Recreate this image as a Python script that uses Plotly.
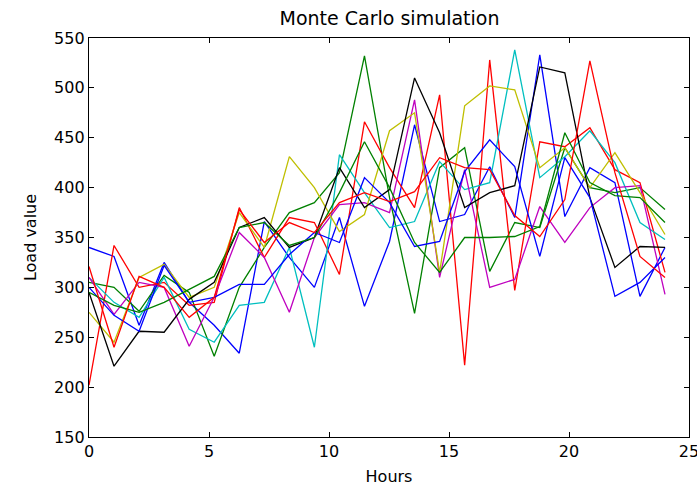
import plotly.graph_objects as go

hours = [0.0, 1.043, 2.087, 3.13, 4.174, 5.217, 6.261, 7.304, 8.348, 9.391, 10.435, 11.478,
         12.522, 13.565, 14.609, 15.652, 16.696, 17.739, 18.783, 19.826, 20.87, 21.913, 22.957, 24.0]

blue_a = [340, 331, 262, 325, 285, 262, 234, 366, 330, 300, 370, 281,
          346, 463, 366, 373, 421, 370, 533, 371, 420, 405, 291, 340]
green_a = [305, 300, 276, 312, 295, 231, 300, 340, 375, 385, 415, 532,
           390, 274, 420, 440, 316, 365, 360, 440, 400, 395, 400, 378]
red_a = [202, 342, 300, 305, 282, 285, 380, 330, 370, 365, 313, 466,
         420, 380, 493, 222, 528, 297, 446, 441, 460, 418, 405, 315]
cyan = [310, 285, 270, 310, 258, 245, 282, 285, 340, 240, 433, 395,
        360, 366, 426, 398, 405, 538, 410, 431, 457, 425, 365, 348]
magenta = [310, 273, 305, 300, 241, 290, 355, 330, 275, 350, 383, 385,
           375, 488, 310, 418, 300, 308, 381, 345, 380, 400, 402, 293]
yellow = [275, 245, 310, 323, 290, 300, 375, 340, 431, 400, 356, 373,
          457, 475, 315, 482, 502, 498, 420, 440, 400, 435, 395, 353]
black = [295, 221, 256, 255, 288, 305, 360, 370, 340, 350, 420, 380,
         398, 510, 455, 380, 395, 402, 521, 515, 390, 320, 341, 340]
blue_b = [300, 272, 256, 322, 285, 290, 303, 303, 333, 355, 345, 410,
          385, 341, 346, 416, 448, 421, 331, 430, 390, 291, 305, 330]
green_b = [295, 282, 275, 285, 298, 311, 360, 365, 342, 350, 395, 446,
           400, 345, 315, 350, 350, 351, 361, 455, 405, 392, 390, 365]
red_b = [321, 240, 311, 300, 270, 290, 378, 345, 365, 355, 385, 395,
         386, 396, 430, 420, 418, 372, 351, 388, 527, 415, 331, 310]

series = [blue_a, green_a, red_a, cyan, magenta, yellow, black, blue_b, green_b, red_b]
colors = ["#0000ff", "#008000", "#ff0000", "#00bfbf", "#bf00bf", "#bfbf00", "#000000",
          "#0000ff", "#008000", "#ff0000"]

fig = go.Figure()
for vals, col in zip(series, colors):
    fig.add_trace(go.Scatter(x=hours, y=vals, mode="lines",
                             line=dict(color=col, width=1.3), showlegend=False,
                             hoverinfo="skip"))

font = dict(family="DejaVu Sans", size=16, color="#000000")
axis_common = dict(showgrid=False, zeroline=False, showline=True, linecolor="#000000",
                   linewidth=1.3, mirror="ticks", ticks="inside", ticklen=5,
                   tickwidth=1, tickcolor="#000000", tickfont=font,
                   ticklabeloverflow="allow", automargin=False)

fig.update_layout(
    width=697, height=486,
    margin=dict(l=89, r=8, t=38, b=49),
    paper_bgcolor="#ffffff", plot_bgcolor="#ffffff",
    font=font,
    title=dict(text="Monte Carlo simulation", x=0.5589, xanchor="center",
               y=0.963, yanchor="middle", font=dict(family="DejaVu Sans", size=19, color="#000000")),
    xaxis=dict(range=[0, 25], tick0=0, dtick=5, title=dict(text="Hours", font=font, standoff=12),
               **axis_common),
    yaxis=dict(range=[150, 550], tick0=150, dtick=50, title=dict(text="Load value", font=font, standoff=13),
               **axis_common),
)

fig.write_html("out.html")
